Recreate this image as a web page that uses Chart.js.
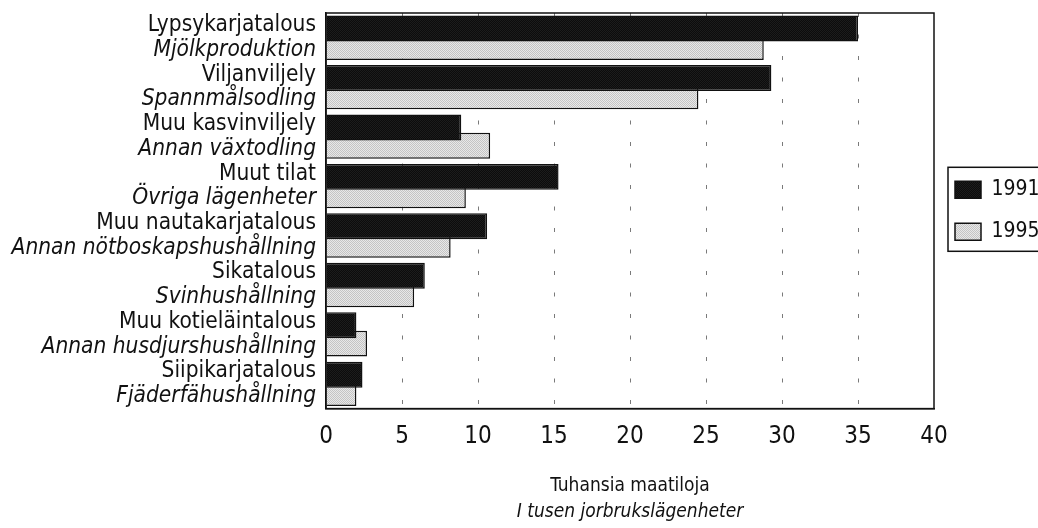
<!DOCTYPE html>
<html>
<head>
<meta charset="utf-8">
<script src="https://cdn.jsdelivr.net/npm/chart.js@4/dist/chart.umd.min.js"></script>
<style>
    html, body { margin: 0; padding: 0; background: #fff; }
    #wrap { width: 1038px; height: 528px; }
</style>
</head>
<body>
<div id="wrap"><canvas id="farmChart" width="1038" height="528"></canvas></div>
<script>
// Data (thousand farms)
const categoriesFi = ["Lypsykarjatalous", "Viljanviljely", "Muu kasvinviljely", "Muut tilat",
    "Muu nautakarjatalous", "Sikatalous", "Muu kotieläintalous", "Siipikarjatalous"];
const categoriesSv = ["Mjölkproduktion", "Spannmålsodling", "Annan växtodling", "Övriga lägenheter",
    "Annan nötboskapshushållning", "Svinhushållning", "Annan husdjurshushållning", "Fjäderfähushållning"];
const seriesLabels = ["1991", "1995"];
const values1991 = [35.0, 29.3, 8.9, 15.3, 10.6, 6.5, 2.0, 2.4];
const values1995 = [28.8, 24.5, 10.8, 9.2, 8.2, 5.8, 2.7, 2.0];
const xTickValues = [0, 5, 10, 15, 20, 25, 30, 35, 40];
const xTitleFi = "Tuhansia maatiloja";
const xTitleSv = "I tusen jorbrukslägenheter";

const FONT = "'DejaVu Sans Condensed', 'Liberation Sans Narrow', sans-serif";
const INK = "#111";

// one label per bar: finnish line then swedish line
const rowLabels = [];
categoriesFi.forEach((fi, i) => {
    rowLabels.push(fi);
    rowLabels.push(categoriesSv[i]);
});

// small checker fills like the print
function makePattern(a, b) {
    const c = document.createElement("canvas");
    c.width = 2;
    c.height = 2;
    const g = c.getContext("2d");
    g.fillStyle = a;
    g.fillRect(0, 0, 2, 2);
    g.fillStyle = b;
    g.fillRect(0, 0, 1, 1);
    g.fillRect(1, 1, 1, 1);
    return g.createPattern(c, "repeat");
}

const ctx = document.querySelector("#farmChart").getContext("2d");
const darkFill = makePattern("#0c0c0c", "#1c1c1c");
const lightFill = makePattern("#e8e8e8", "#c4c4c4");

// frame round the plot + box round the legend
const framePlugin = {
    id: "frame",
    afterDraw(chart) {
        const a = chart.chartArea;
        const c = chart.ctx;
        c.save();
        c.strokeStyle = INK;
        c.lineWidth = 1.5;
        c.strokeRect(a.left, a.top, a.right - a.left, a.bottom - a.top);
        const hb = chart.legend.legendHitBoxes;
        if (hb && hb.length) {
            const first = hb[0];
            const last = hb[hb.length - 1];
            const top = first.top - 12;
            const bottom = last.top + last.height + 9;
            const left = first.left - 7;
            c.strokeRect(left, top, chart.width + 5 - left, bottom - top);
        }
        c.restore();
    }
};

new Chart(ctx, {
    type: "bar",
    data: {
        labels: categoriesFi,
        datasets: [
            {
                label: seriesLabels[0],
                data: values1991,
                backgroundColor: darkFill,
                borderColor: INK,
                borderWidth: 1.5,
                borderSkipped: "start",
                categoryPercentage: 0.745,
                barPercentage: 1.41
            },
            {
                label: seriesLabels[1],
                data: values1995,
                backgroundColor: lightFill,
                borderColor: INK,
                borderWidth: 1.5,
                borderSkipped: "start",
                categoryPercentage: 0.745,
                barPercentage: 1.41
            }
        ]
    },
    options: {
        indexAxis: "y",
        responsive: false,
        animation: false,
        devicePixelRatio: 1,
        layout: { padding: { top: 13, right: 0, bottom: 5, left: 0 } },
        plugins: {
            tooltip: { enabled: false },
            legend: {
                position: "right",
                fullSize: false,
                align: "center",
                maxWidth: 104,
                labels: {
                    boxWidth: 26,
                    boxHeight: 17,
                    padding: 21,
                    color: INK,
                    font: { family: FONT, size: 21 }
                }
            }
        },
        scales: {
            x: {
                type: "linear",
                min: xTickValues[0],
                max: xTickValues[xTickValues.length - 1],
                afterBuildTicks: (scale) => {
                    scale.ticks = xTickValues.map(v => ({ value: v }));
                },
                ticks: {
                    color: INK,
                    padding: 14,
                    font: { family: FONT, size: 24 }
                },
                grid: {
                    drawTicks: false,
                    color: (c) => (c.tick && (c.tick.value === 0 || c.tick.value === 40)) ? "rgba(0,0,0,0)" : "#7a7a7a",
                    lineWidth: 1
                },
                border: { display: true, color: INK, width: 1.5, dash: [4, 17.5] },
                title: {
                    display: true,
                    text: xTitleFi,
                    color: INK,
                    padding: { top: 9, bottom: 3 },
                    font: { family: FONT, size: 19 }
                }
            },
            x2: {
                type: "linear",
                position: "bottom",
                weight: 1,
                min: 0,
                max: 40,
                ticks: { display: false },
                grid: { display: false, drawTicks: false },
                border: { display: false },
                title: {
                    display: true,
                    text: xTitleSv,
                    color: INK,
                    padding: { top: 0, bottom: 0 },
                    font: { family: FONT, size: 19, style: "italic" }
                }
            },
            y: {
                type: "category",
                display: false,
                offset: true
            },
            yl: {
                type: "category",
                position: "left",
                labels: rowLabels,
                offset: true,
                afterFit: (scale) => {
                    // left labels need more room than the default half-width cap
                    scale.width = 326;
                    scale.paddingTop = 0;
                    scale.paddingBottom = 0;
                },
                grid: { display: false, drawTicks: false },
                border: { display: true, color: INK, width: 1.5 },
                ticks: {
                    color: INK,
                    padding: 10,
                    autoSkip: false,
                    font: (c) => ({
                        family: FONT,
                        size: 22.5,
                        style: c.index % 2 === 1 ? "italic" : "normal"
                    })
                }
            }
        }
    },
    plugins: [framePlugin]
});
</script>
</body>
</html>
